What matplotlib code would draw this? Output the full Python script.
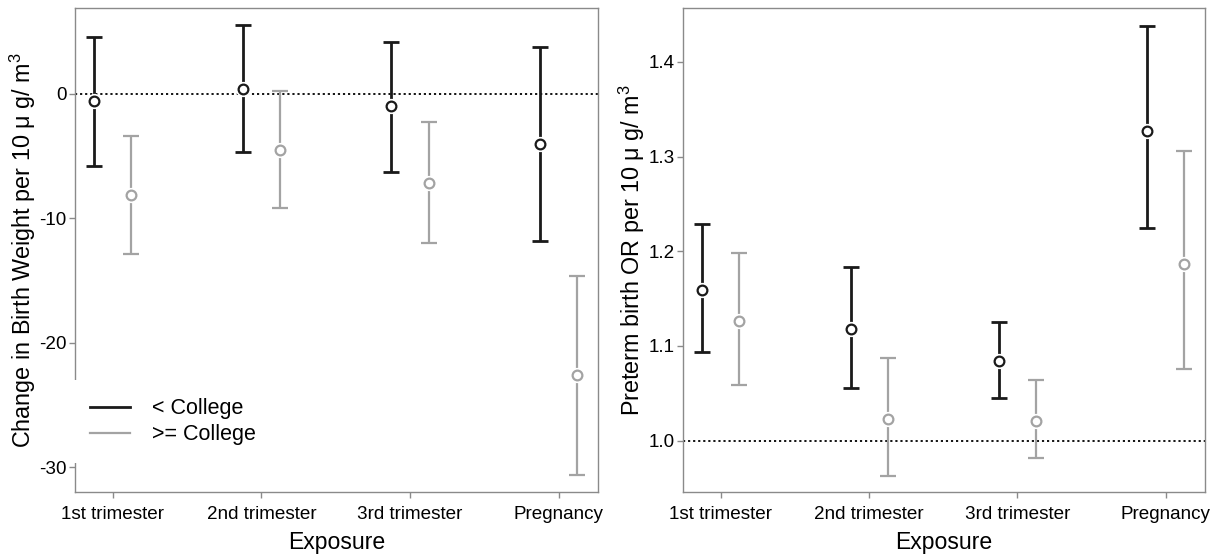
import matplotlib
matplotlib.use("Agg")
import matplotlib.pyplot as plt
from matplotlib.lines import Line2D
import numpy as np

plt.rcParams['font.family'] = ['Liberation Sans', 'DejaVu Sans']
plt.rcParams['mathtext.fontset'] = 'custom'
plt.rcParams['mathtext.rm'] = 'Liberation Sans'
plt.rcParams['mathtext.it'] = 'Liberation Sans:italic'
plt.rcParams['axes.unicode_minus'] = False

# ---- data ----
exposures = ["1st trimester", "2nd trimester", "3rd trimester", "Pregnancy"]
groups = ["< College", ">= College"]

# Left panel: change in birth weight
bw_low_est = [-0.6, 0.4, -1.0, -4.0]
bw_low_lo = [-5.8, -4.7, -6.25, -11.8]
bw_low_hi = [4.6, 5.5, 4.2, 3.8]
bw_high_est = [-8.1, -4.5, -7.2, -22.6]
bw_high_lo = [-12.9, -9.2, -12.0, -30.65]
bw_high_hi = [-3.4, 0.2, -2.3, -14.6]

# Right panel: preterm birth OR
or_low_est = [1.159, 1.118, 1.084, 1.327]
or_low_lo = [1.093, 1.056, 1.045, 1.225]
or_low_hi = [1.229, 1.183, 1.125, 1.438]
or_high_est = [1.126, 1.023, 1.021, 1.186]
or_high_lo = [1.059, 0.963, 0.981, 1.076]
or_high_hi = [1.198, 1.087, 1.064, 1.306]

bw_ticks = [0, -10, -20, -30]
or_ticks = [1.0, 1.1, 1.2, 1.3, 1.4]

col_low = "#1a1a1a"
col_high = "#a3a3a3"
spine_col = "#8a8a8a"

fig = plt.figure(figsize=(12.28, 5.55), dpi=100)
W, H = 1228, 555
axL = fig.add_axes([75 / W, 1 - 492 / H, 523 / W, 484 / H])
axR = fig.add_axes([683 / W, 1 - 492 / H, 522 / W, 484 / H])

xpos = np.arange(1, len(exposures) + 1)
off = 0.125


def draw_group(ax, x, est, lo, hi, color, lw):
    est = np.asarray(est); lo = np.asarray(lo); hi = np.asarray(hi)
    ax.errorbar(x, est, yerr=[est - lo, hi - est], fmt='none', ecolor=color,
                elinewidth=lw, capsize=6, capthick=lw, zorder=3)
    ax.plot(x, est, 'o', ms=11, mfc='white', mec='none', zorder=4)
    ax.plot(x, est, 'o', ms=7, mfc='white', mec=color, mew=1.6, zorder=5)


def style(ax):
    for s in ax.spines.values():
        s.set_color(spine_col)
        s.set_linewidth(1.0)
    ax.tick_params(axis='both', direction='out', length=4, width=1,
                   color=spine_col, labelsize=13.6, labelcolor='black')
    ax.tick_params(axis='x', pad=6)
    ax.tick_params(axis='y', pad=2)
    ax.set_xticks(xpos)
    ax.set_xticklabels(exposures)
    ax.set_xlim(0.745, 4.265)
    ax.set_xlabel("Exposure", fontsize=16.6, labelpad=6)


# Left
draw_group(axL, xpos - off, bw_low_est, bw_low_lo, bw_low_hi, col_low, 2.0)
draw_group(axL, xpos + off, bw_high_est, bw_high_lo, bw_high_hi, col_high, 1.6)
axL.axhline(0, color='black', ls=(0, (1.2, 1.6)), lw=1.3, zorder=2)
style(axL)
axL.set_ylim(-32.0, 6.9)
axL.set_yticks(bw_ticks)
axL.set_yticklabels([str(t) for t in bw_ticks])
axL.set_ylabel("Change in Birth Weight per 10 \u03bc g/ m$^3$", fontsize=16.8, labelpad=1)

handles = [Line2D([0], [0], color=col_low, lw=2.0),
           Line2D([0], [0], color=col_high, lw=1.6)]
leg = axL.legend(handles, groups, loc='upper left',
                 bbox_to_anchor=(72 / W, 1 - 380 / H), bbox_transform=fig.transFigure,
                 fontsize=15.5, frameon=True, facecolor='white', edgecolor='none',
                 framealpha=1.0, fancybox=False, borderpad=0.85, borderaxespad=0,
                 handlelength=1.85, handletextpad=1.0, labelspacing=0.22)
leg.set_zorder(10)

# Right
draw_group(axR, xpos - off, or_low_est, or_low_lo, or_low_hi, col_low, 2.0)
draw_group(axR, xpos + off, or_high_est, or_high_lo, or_high_hi, col_high, 1.6)
axR.axhline(1.0, color='black', ls=(0, (1.2, 1.6)), lw=1.3, zorder=2)
style(axR)
axR.set_ylim(0.9456, 1.457)
axR.set_yticks(or_ticks)
axR.set_yticklabels([f"{t:.1f}" for t in or_ticks])
axR.set_ylabel("Preterm birth OR per 10 \u03bc g/ m$^3$", fontsize=16.8, labelpad=1)

fig.savefig("out.png", dpi=100)
